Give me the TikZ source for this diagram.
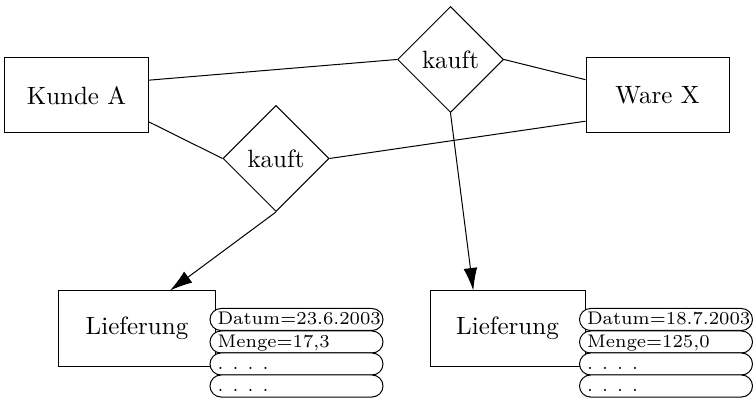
\documentclass[tikz,border=0pt]{standalone}
\usepackage{tikz}
\usetikzlibrary{shapes.geometric,arrows.meta}
\tikzset{>={Latex[length=9pt,width=5.5pt]}}
\tikzset{
  entity/.style={draw,minimum width=57.2pt,minimum height=30pt,inner sep=0pt},
  relation/.style={draw,diamond,minimum width=42.4pt,minimum height=42.4pt,inner sep=0pt},
  attrib/.style={draw,fill=white,rounded corners=4.4pt,minimum width=69.2pt,minimum height=8.8pt,
    inner xsep=3pt,inner ysep=0pt,text width=63.2pt,align=left,font=\fontsize{7.3}{8.5}\selectfont,
    text height=5.4pt,text depth=1.2pt}
}

\begin{document}
\begin{tikzpicture}[x=0.4pt,y=-0.4pt]
  \useasboundingbox (0,0) rectangle (753,405);
  \node[entity] (kunde) at (76.5,95.5) {Kunde A};
  \node[entity] (ware) at (657.5,95) {Ware X};
  \node[relation] (kauftA) at (450.5,59.5) {kauft};
  \node[relation] (kauftB) at (276,158.5) {kauft};
  \node[entity,minimum width=62.4pt] (lief1) at (137,328.5) {Lieferung};
  \node[entity,minimum width=62pt] (lief2) at (507.5,328.5) {Lieferung};
  \draw (kunde.12) -- (kauftA.west);
  \draw (kauftA.east) -- (ware.168);
  \draw (kunde.-20) -- (kauftB.west);
  \draw (kauftB.east) -- (ware.-160);
  \draw[->] (kauftB.south) -- (lief1.49);
  \draw[->] (kauftA.south) -- (lief2.132);
  % Attribute
  \node[attrib] (datum1) at (296.5,319.5) {Datum=23.6.2003};
  \node[attrib] (menge1) at (296.5,342) {Menge=17,3};
  \node[attrib] (rest1a) at (296.5,364) {. . . .};
  \node[attrib] (rest1b) at (296.5,386) {. . . .};
  \node[attrib] (datum2) at (666,319.5) {Datum=18.7.2003};
  \node[attrib] (menge2) at (666,342) {Menge=125,0};
  \node[attrib] (rest2a) at (666,364) {. . . .};
  \node[attrib] (rest2b) at (666,386) {. . . .};
\end{tikzpicture}
\end{document}
